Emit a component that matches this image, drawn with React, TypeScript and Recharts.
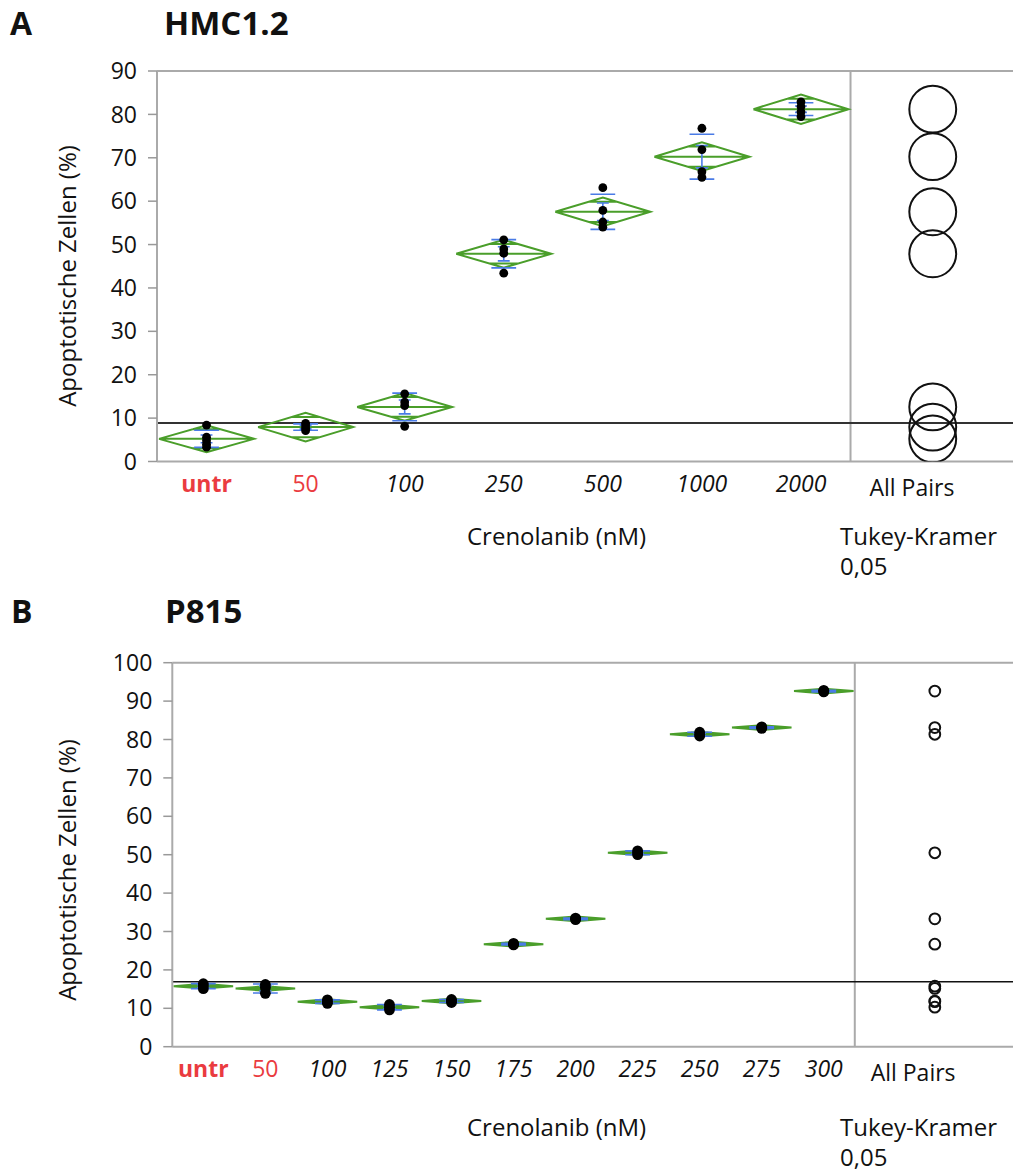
import { ComposedChart, Line, ReferenceLine, Scatter, XAxis, YAxis } from "recharts";

const FONT = "'Open Sans', 'Noto Sans', sans-serif";
const GREEN = "#4a9e2a";
const BLUE = "#4a7be6";
const RED = "#ea3b40";
const GRAY = "#aaaaaa";

// --- panel A: HMC1.2 ---
const catsA = ["untr", "50", "100", "250", "500", "1000", "2000"];
const pointsA = [
  [8.4, 5.6, 4.8, 4.0, 3.3],
  [8.8, 8.2, 7.6, 7.1],
  [15.6, 13.7, 12.9, 8.1],
  [51.1, 49.0, 48.0, 43.4],
  [63.1, 57.9, 55.2, 54.0],
  [76.8, 71.9, 66.8, 65.5],
  [82.9, 81.8, 80.6, 79.5],
];
const ciA = [3.1, 3.3, 3.2, 3.2, 3.3, 3.3, 3.4];
const refA = 8.9;
const yTicksA = [0, 10, 20, 30, 40, 50, 60, 70, 80, 90];
const circleRA = 5.4;

// --- panel B: P815 ---
const catsB = ["untr", "50", "100", "125", "150", "175", "200", "225", "250", "275", "300"];
const pointsB = [
  [16.4, 15.8, 15.1],
  [16.2, 15.4, 13.9],
  [12.2, 11.7, 11.3],
  [11.0, 10.3, 9.6],
  [12.3, 11.9, 11.5],
  [26.9, 26.7, 26.5],
  [33.5, 33.3, 33.1],
  [51.0, 50.5, 50.0],
  [81.9, 81.3, 80.9],
  [83.3, 83.1, 82.9],
  [92.8, 92.6, 92.4],
];
const ciB = [0.6, 0.6, 0.6, 0.6, 0.6, 0.6, 0.6, 0.6, 0.6, 0.6, 0.6];
const refB = 16.9;
const yTicksB = [0, 10, 20, 30, 40, 50, 60, 70, 80, 90, 100];
const circleRB = 1.4;

const mean = (v: number[]) => v.reduce((a, b) => a + b, 0) / v.length;
const sd = (v: number[]) => {
  const m = mean(v);
  return Math.sqrt(v.reduce((a, b) => a + (b - m) * (b - m), 0) / (v.length - 1));
};

type Pt = { x: number; y: number | null };

function buildMarks(points: number[][], ci: number[], sdW: number, seW: number) {
  const green: Pt[] = [];
  const blue: Pt[] = [];
  const seg = (arr: Pt[], x1: number, y1: number, x2: number, y2: number) => {
    arr.push({ x: x1, y: y1 }, { x: x2, y: y2 }, { x: x2, y: null });
  };
  points.forEach((vals, i) => {
    const m = mean(vals);
    const s = sd(vals);
    const e = s / Math.sqrt(vals.length);
    const h = ci[i];
    const c = i + 0.5;
    const L = i + 0.02;
    const R = i + 0.98;
    // mean diamond
    green.push(
      { x: L, y: m },
      { x: c, y: m + h },
      { x: R, y: m },
      { x: c, y: m - h },
      { x: L, y: m },
      { x: L, y: null }
    );
    seg(green, L, m, R, m);
    // overlap marks
    const o = h / Math.SQRT2;
    const ow = (c - L) * (1 - 1 / Math.SQRT2);
    seg(green, c - ow, m + o, c + ow, m + o);
    seg(green, c - ow, m - o, c + ow, m - o);
    // std dev lines + mean error bar
    seg(blue, c - sdW, m + s, c + sdW, m + s);
    seg(blue, c - sdW, m - s, c + sdW, m - s);
    seg(blue, c, m - e, c, m + e);
    seg(blue, c - seW, m + e, c + seW, m + e);
    seg(blue, c - seW, m - e, c + seW, m - e);
  });
  return { green, blue };
}

type PanelProps = {
  cats: string[];
  points: number[][];
  ci: number[];
  refY: number;
  yTicks: number[];
  top: number;
  height: number;
  plotTop: number;
  plotBottom: number;
  axisWidth: number;
  xMax: number;
  circleX: number;
  allPairsX: number;
  circleR: number;
  dotR: number;
  sdW: number;
  seW: number;
  refColor: string;
  refWidth: number;
  circleStroke: number;
};

function Panel(p: PanelProps) {
  const yMax = p.yTicks[p.yTicks.length - 1];
  const n = p.cats.length;
  const pxPerUnit = (p.plotBottom - p.plotTop) / yMax;
  const { green, blue } = buildMarks(p.points, p.ci, p.sdW, p.seW);
  const dots = p.points.flatMap((vals, i) => vals.map((v) => ({ x: i + 0.5, y: v })));
  const circles = p.points.map((vals) => ({ x: p.circleX, y: mean(vals) }));
  const bounds = Array.from({ length: n - 1 }, (_, i) => i + 1);
  const labelTicks = [...p.cats.map((_, i) => i + 0.5), p.allPairsX];
  const labels = [...p.cats, "All Pairs"];
  const tickH = 6;
  const labH = p.height - (p.plotBottom - p.top) - tickH;

  const LabelTick = (props: any) => {
    const { x, y, index } = props;
    const t = labels[index];
    let style: any = { fill: "#111", fontStyle: "italic", fontWeight: 400 };
    if (index === 0) style = { fill: RED, fontWeight: 700 };
    else if (index === 1) style = { fill: RED, fontWeight: 400 };
    else if (t === "All Pairs") style = { fill: "#111", fontWeight: 400 };
    return (
      <text
        x={x}
        y={y + (t === "All Pairs" ? 28 : 24)}
        textAnchor="middle"
        fontSize={23}
        fontFamily={FONT}
        {...style}
      >
        {t}
      </text>
    );
  };

  return (
    <div style={{ position: "absolute", left: 0, top: p.top }}>
      <ComposedChart
        width={1013}
        height={p.height}
        margin={{ top: p.plotTop - p.top, right: 0, left: 0, bottom: 0 }}
      >
        <XAxis
          dataKey="x"
          type="number"
          domain={[0, p.xMax]}
          ticks={bounds}
          interval={0}
          height={tickH}
          tickSize={6}
          tick={false}
          axisLine={{ stroke: GRAY, strokeWidth: 2 }}
          tickLine={{ stroke: "#999", strokeWidth: 1.5 }}
          allowDataOverflow
        />
        <XAxis
          xAxisId="lab"
          dataKey="x"
          type="number"
          domain={[0, p.xMax]}
          ticks={labelTicks}
          interval={0}
          height={labH}
          tickSize={0}
          tickMargin={0}
          axisLine={false}
          tickLine={false}
          tick={LabelTick}
          allowDataOverflow
        />
        <YAxis
          dataKey="y"
          type="number"
          domain={[0, yMax]}
          ticks={p.yTicks}
          interval={0}
          width={p.axisWidth}
          tickSize={9}
          tickMargin={11}
          axisLine={{ stroke: GRAY, strokeWidth: 2 }}
          tickLine={{ stroke: "#999", strokeWidth: 1.5 }}
          tick={{ fontSize: 23, fill: "#111", fontFamily: FONT }}
          allowDataOverflow
        />
        <ReferenceLine y={yMax} stroke={GRAY} strokeWidth={2} />
        <ReferenceLine x={n} stroke={GRAY} strokeWidth={2} />
        <ReferenceLine y={p.refY} stroke={p.refColor} strokeWidth={p.refWidth} />
        <Line
          data={green}
          dataKey="y"
          stroke={GREEN}
          strokeWidth={2}
          dot={false}
          activeDot={false}
          connectNulls={false}
          isAnimationActive={false}
        />
        <Line
          data={blue}
          dataKey="y"
          stroke={BLUE}
          strokeWidth={1.6}
          dot={false}
          activeDot={false}
          connectNulls={false}
          isAnimationActive={false}
        />
        <Scatter
          data={dots}
          isAnimationActive={false}
          shape={(s: any) => <circle cx={s.cx} cy={s.cy} r={p.dotR} fill="#000" />}
        />
        <Scatter
          data={circles}
          isAnimationActive={false}
          shape={(s: any) => (
            <circle
              cx={s.cx}
              cy={s.cy}
              r={p.circleR * pxPerUnit}
              fill="none"
              stroke="#111"
              strokeWidth={p.circleStroke}
            />
          )}
        />
      </ComposedChart>
    </div>
  );
}

export default function App() {
  const txt = { fontFamily: FONT, fill: "#111" };
  return (
    <div style={{ position: "relative", width: 1013, height: 1173, background: "#fff" }}>
      <style>{`body{margin:0;background:#fff}`}</style>
      <Panel
        cats={catsA}
        points={pointsA}
        ci={ciA}
        refY={refA}
        yTicks={yTicksA}
        top={0}
        height={520}
        plotTop={71}
        plotBottom={461.5}
        axisWidth={157}
        xMax={8.64}
        circleX={7.83}
        allPairsX={7.62}
        circleR={circleRA}
        dotR={4.4}
        sdW={0.125}
        seW={0.06}
        refColor="#333"
        refWidth={2}
        circleStroke={2}
      />
      <Panel
        cats={catsB}
        points={pointsB}
        ci={ciB}
        refY={refB}
        yTicks={yTicksB}
        top={600}
        height={500}
        plotTop={662.7}
        plotBottom={1046.7}
        axisWidth={172.3}
        xMax={13.55}
        circleX={12.29}
        allPairsX={11.94}
        circleR={circleRB}
        dotR={5.4}
        sdW={0.2}
        seW={0.1}
        refColor="#111"
        refWidth={1.5}
        circleStroke={2}
      />
      <svg
        width={1013}
        height={1173}
        style={{ position: "absolute", left: 0, top: 0, pointerEvents: "none" }}
      >
        <text x={10} y={35} fontSize={32} fontWeight={700} {...txt}>A</text>
        <text x={164} y={35} fontSize={33} fontWeight={700} {...txt}>HMC1.2</text>
        <text
          x={66}
          y={276}
          fontSize={24}
          textAnchor="middle"
          dominantBaseline="central"
          transform="rotate(-90 66 276)"
          {...txt}
        >
          Apoptotische Zellen (%)
        </text>
        <text x={467} y={545} fontSize={24} {...txt}>Crenolanib (nM)</text>
        <text x={840} y={545} fontSize={24} {...txt}>Tukey-Kramer</text>
        <text x={840} y={575} fontSize={24} {...txt}>0,05</text>

        <text x={11} y={623} fontSize={32} fontWeight={700} {...txt}>B</text>
        <text x={165} y={623} fontSize={33} fontWeight={700} {...txt}>P815</text>
        <text
          x={66}
          y={870}
          fontSize={24}
          textAnchor="middle"
          dominantBaseline="central"
          transform="rotate(-90 66 870)"
          {...txt}
        >
          Apoptotische Zellen (%)
        </text>
        <text x={467} y={1136} fontSize={24} {...txt}>Crenolanib (nM)</text>
        <text x={840} y={1136} fontSize={24} {...txt}>Tukey-Kramer</text>
        <text x={840} y={1166} fontSize={24} {...txt}>0,05</text>
      </svg>
    </div>
  );
}
